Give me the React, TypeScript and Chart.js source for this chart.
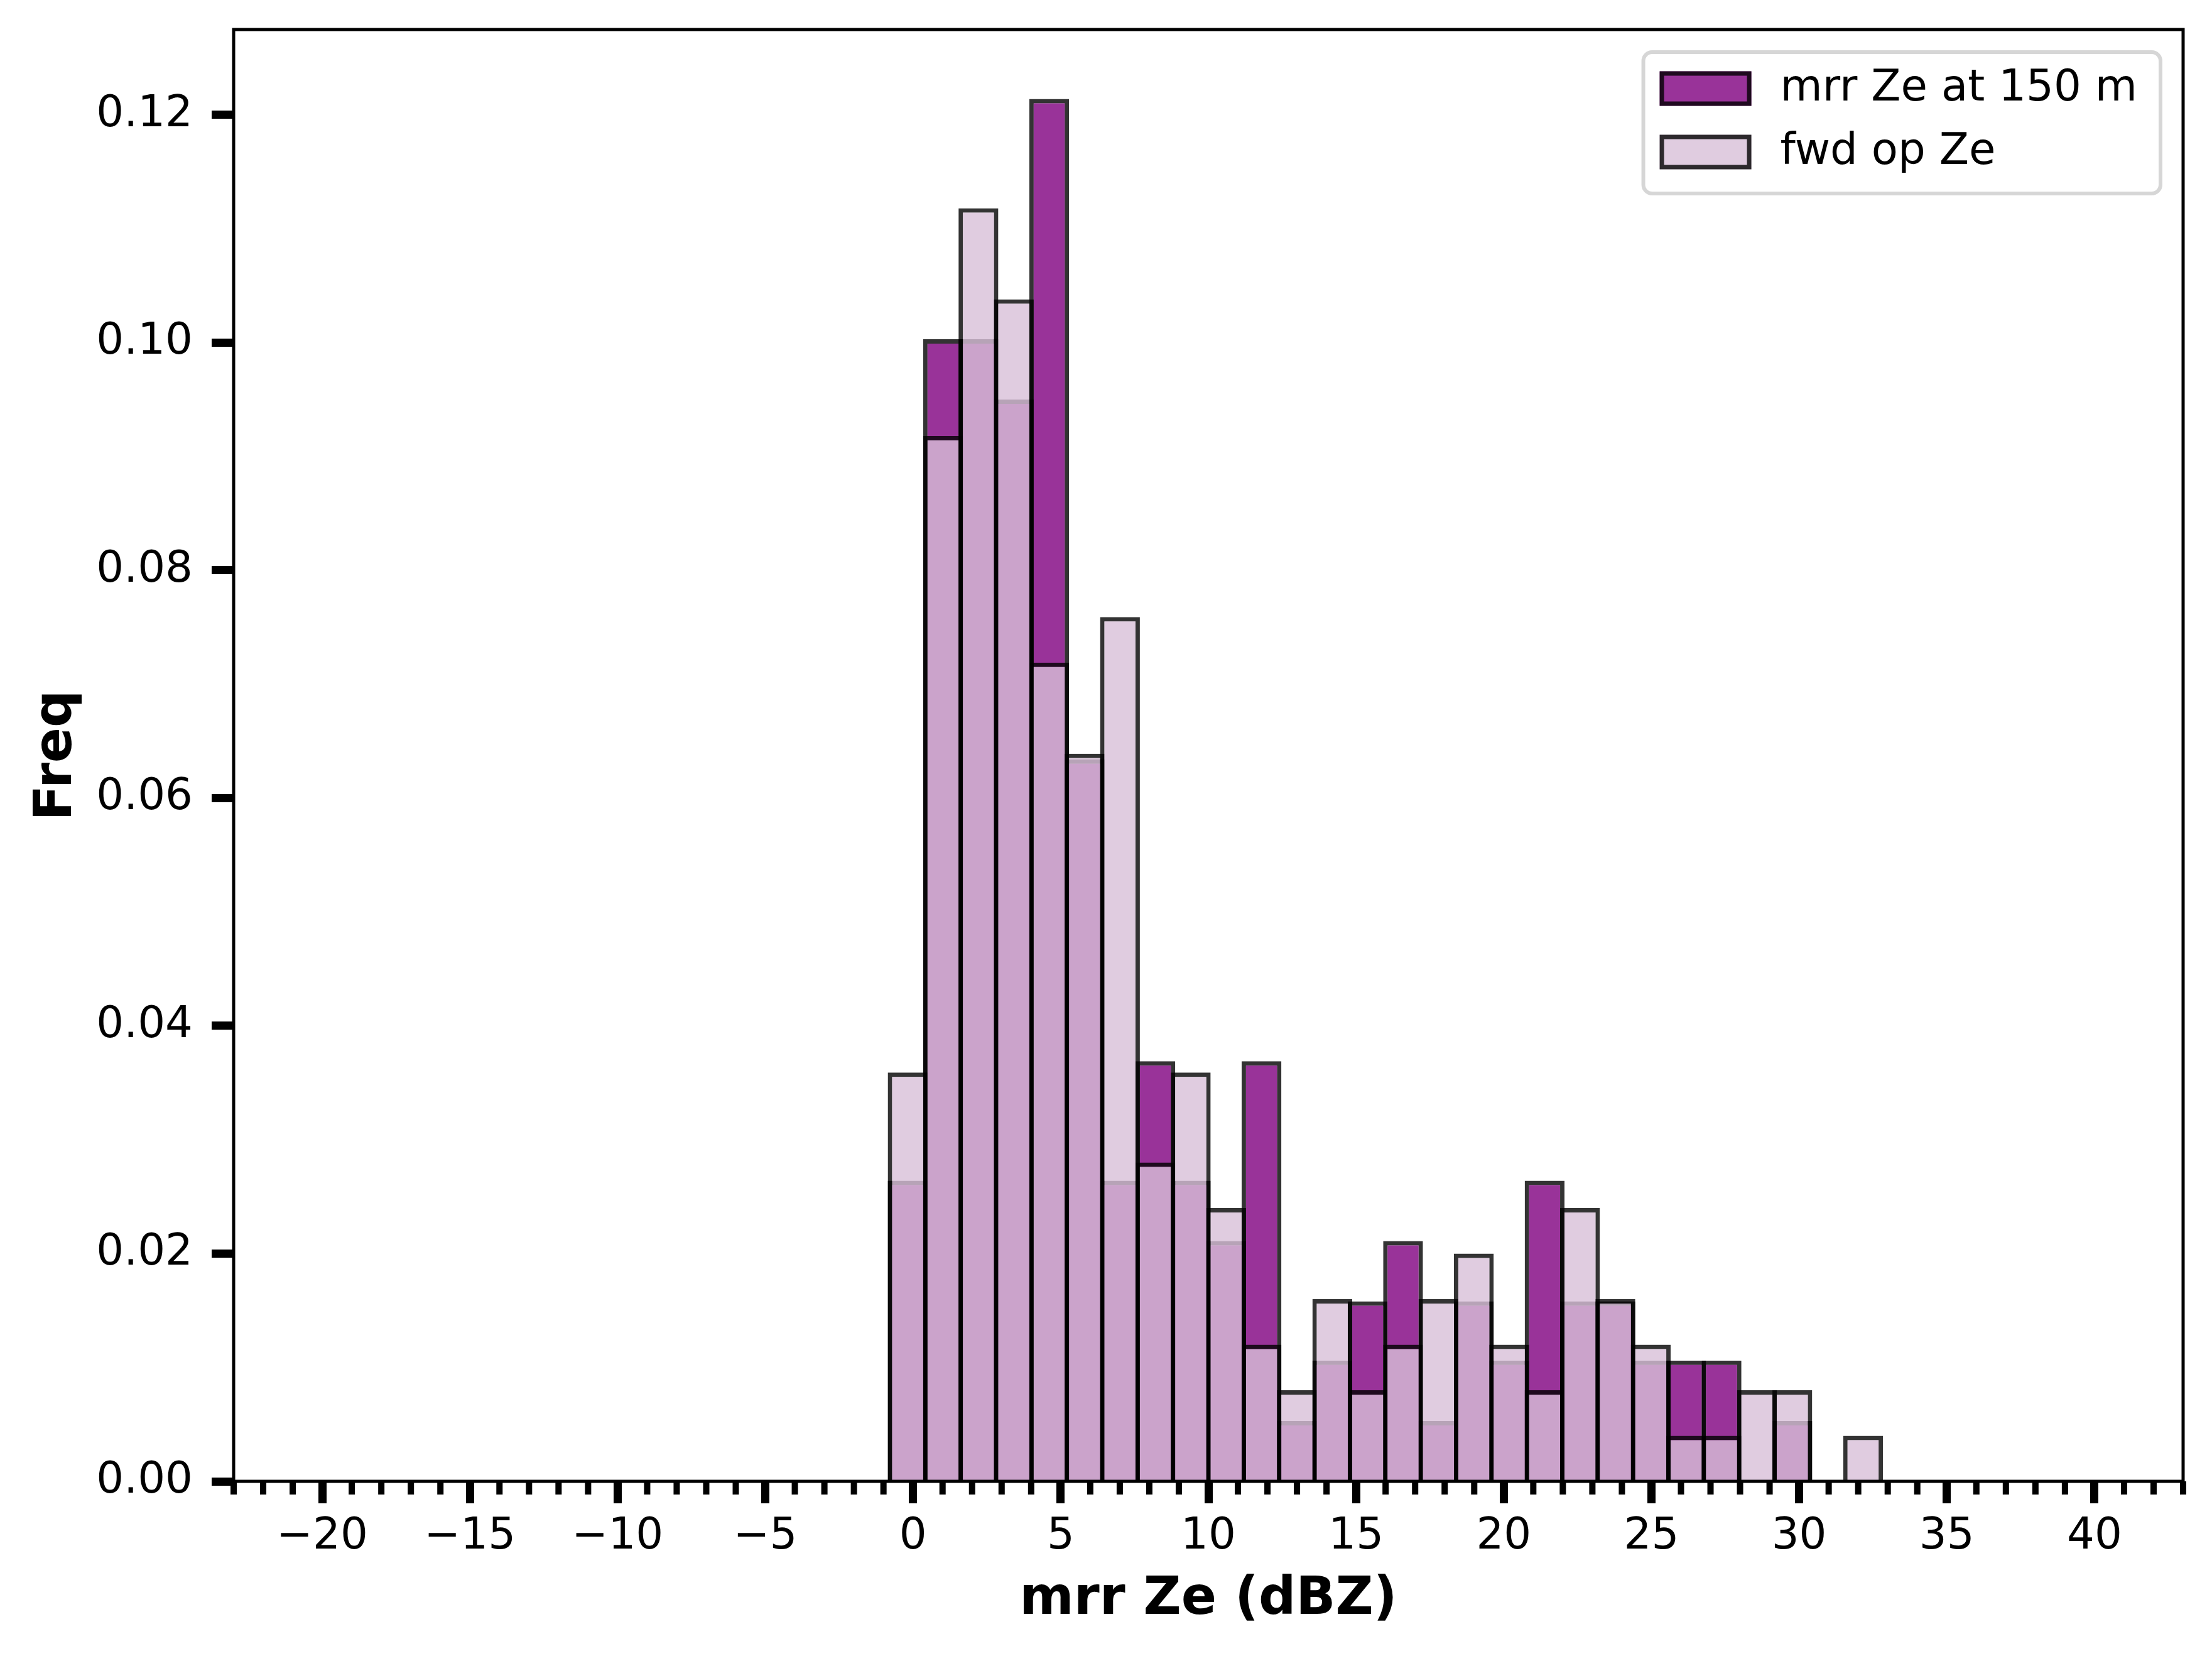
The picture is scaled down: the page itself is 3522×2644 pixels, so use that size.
import { useEffect, useRef } from 'react';
import { Chart, registerables } from 'chart.js';

Chart.register(...registerables);

// histogram bin centres in dBZ (bins are ~1.2 dBZ wide)
const binCenters = [
  -0.181, 1.017, 2.215, 3.413, 4.611, 5.809, 7.007, 8.205, 9.403, 10.601,
  11.799, 12.997, 14.195, 15.393, 16.591, 17.789, 18.987, 20.185, 21.383, 22.581,
  23.779, 24.977, 26.175, 27.373, 28.571, 29.769, 30.967, 32.165,
];

// mrr Ze at 150 m
const mrrFreq = [
  0.0264, 0.1003, 0.1003, 0.0950, 0.1214, 0.0634, 0.0264, 0.0369, 0.0264, 0.0211,
  0.0369, 0.0053, 0.0106, 0.0158, 0.0211, 0.0053, 0.0158, 0.0106, 0.0264, 0.0158,
  0.0158, 0.0106, 0.0106, 0.0106, 0, 0.0053, 0, 0,
];

// fwd op Ze
const fwdFreq = [
  0.0359, 0.0918, 0.1118, 0.1038, 0.0719, 0.0639, 0.0759, 0.0280, 0.0359, 0.0240,
  0.0120, 0.0080, 0.0160, 0.0080, 0.0120, 0.0160, 0.0200, 0.0120, 0.0080, 0.0240,
  0.0160, 0.0120, 0.0040, 0.0040, 0.0080, 0.0080, 0, 0.0040,
];

const xTickValues = [-20, -15, -10, -5, 0, 5, 10, 15, 20, 25, 30, 35, 40];
const yTickValues = [0, 0.02, 0.04, 0.06, 0.08, 0.1, 0.12];

const FONT = 'DejaVu Sans';

// box around the axes + minor ticks on x
const framePlugin = {
  id: 'framePlugin',
  afterDatasetsDraw(chart: any) {
    const { ctx, chartArea } = chart;
    const { left, right, top, bottom } = chartArea;
    const xs = chart.scales.x;
    ctx.save();
    ctx.fillStyle = '#000';
    for (let v = Math.ceil(xs.min); v <= Math.floor(xs.max); v++) {
      if (v % 5 === 0) continue;
      const px = xs.getPixelForValue(v);
      ctx.fillRect(px - 5, bottom, 10, 21);
    }
    ctx.strokeStyle = '#000';
    ctx.lineWidth = 5;
    ctx.strokeRect(left, top, right - left, bottom - top);
    ctx.restore();
  },
};

// matplotlib-like legend in the upper right corner
const legendPlugin = {
  id: 'legendPlugin',
  afterDraw(chart: any) {
    const { ctx, chartArea } = chart;
    const sets = chart.data.datasets;
    ctx.save();
    ctx.font = `69px "${FONT}"`;
    const textW = Math.max(...sets.map((d: any) => ctx.measureText(d.label).width));
    const w = 26 + 146 + 46 + textW + 37;
    const h = 225;
    const x0 = chartArea.right - 36 - w;
    const y0 = chartArea.top + 36;

    ctx.beginPath();
    ctx.roundRect(x0, y0, w, h, 14);
    ctx.fillStyle = 'rgba(255,255,255,0.8)';
    ctx.fill();
    ctx.lineWidth = 6;
    ctx.strokeStyle = '#d6d6d6';
    ctx.stroke();

    sets.forEach((ds: any, i: number) => {
      const cy = y0 + 58 + i * 101;
      const px = x0 + 26;
      ctx.fillStyle = ds.backgroundColor;
      ctx.fillRect(px, cy - 27.5, 146, 55);
      ctx.lineWidth = 7;
      ctx.strokeStyle = ds.borderColor;
      ctx.strokeRect(px + 3.5, cy - 24, 139, 48);
      ctx.fillStyle = '#000';
      ctx.textAlign = 'left';
      ctx.textBaseline = 'middle';
      ctx.fillText(ds.label, px + 146 + 46, cy + 1);
    });
    ctx.restore();
  },
};

export default function App() {
  const canvasRef = useRef<HTMLCanvasElement>(null);

  useEffect(() => {
    if (!canvasRef.current) return;

    Chart.defaults.font.family = FONT;
    Chart.defaults.color = '#000';

    const barStyle = {
      borderWidth: 7,
      borderColor: 'rgba(0,0,0,0.8)',
      borderSkipped: 'start' as const,
      grouped: false,
      categoryPercentage: 1,
      barPercentage: 1.125,
      inflateAmount: 0,
    };

    const chart = new Chart(canvasRef.current, {
      type: 'bar',
      data: {
        datasets: [
          {
            label: 'mrr Ze at 150 m',
            data: binCenters.map((x, i) => ({ x, y: mrrFreq[i] })),
            backgroundColor: 'rgba(128,0,128,0.8)',
            order: 1,
            ...barStyle,
          },
          {
            label: 'fwd op Ze',
            data: binCenters.map((x, i) => ({ x, y: fwdFreq[i] })),
            backgroundColor: 'rgba(216,191,216,0.8)',
            order: 0,
            ...barStyle,
          },
        ],
      },
      options: {
        animation: false,
        responsive: true,
        maintainAspectRatio: false,
        devicePixelRatio: 1,
        events: [],
        layout: {
          padding: { left: 0, right: 46, top: 47, bottom: 0 },
        },
        plugins: {
          legend: { display: false },
          tooltip: { enabled: false },
        },
        scales: {
          x: {
            type: 'linear',
            min: -23,
            max: 43,
            bounds: 'data',
            offset: false,
            grid: {
              display: true,
              offset: false,
              drawOnChartArea: false,
              drawTicks: true,
              tickLength: 35,
              tickWidth: 13,
              tickColor: '#000',
            },
            border: { display: false },
            ticks: {
              autoSkip: false,
              maxRotation: 0,
              includeBounds: false,
              padding: 13,
              font: { size: 69 },
              callback: (v: any) => (Number(v) < 0 ? '\u2212' + Math.abs(Number(v)) : String(v)),
            },
            afterBuildTicks: (s: any) => {
              s.ticks = xTickValues.map((value) => ({ value }));
            },
            afterFit: (s: any) => {
              s.height = 2644 - 2358;
              s.paddingLeft = 0;
              s.paddingRight = 0;
            },
            title: {
              display: true,
              text: 'mrr Ze (dBZ)',
              font: { size: 83, weight: 'bold' },
              padding: { top: 0, bottom: 47 },
            },
          },
          y: {
            min: 0,
            max: 0.1275,
            bounds: 'data',
            grid: {
              display: true,
              drawOnChartArea: false,
              drawTicks: true,
              tickLength: 35,
              tickWidth: 13,
              tickColor: '#000',
            },
            border: { display: false },
            ticks: {
              autoSkip: false,
              includeBounds: false,
              padding: 30,
              font: { size: 69 },
              callback: (v: any) => Number(v).toFixed(2),
            },
            afterBuildTicks: (s: any) => {
              s.ticks = yTickValues.map((value) => ({ value }));
            },
            afterFit: (s: any) => {
              s.width = 372;
              s.paddingTop = 0;
              s.paddingBottom = 0;
            },
            title: {
              display: true,
              text: 'Freq',
              font: { size: 83, weight: 'bold' },
              padding: { top: 42, bottom: 0 },
            },
          },
        },
      },
      plugins: [framePlugin, legendPlugin],
    });

    return () => {
      chart.destroy();
    };
  }, []);

  return (
    <div
      style={{
        position: 'fixed',
        left: 0,
        top: 0,
        width: '3522px',
        height: '2644px',
        background: '#fff',
      }}
    >
      <canvas ref={canvasRef}></canvas>
    </div>
  );
}
